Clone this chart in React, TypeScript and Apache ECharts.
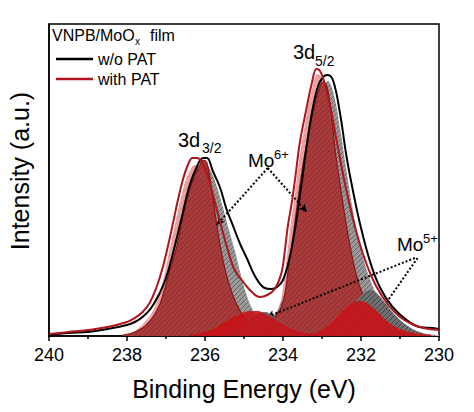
import React, { useEffect, useRef } from "react";
import * as echarts from "echarts";

// ---------- data (binding energy eV, intensity a.u.) ----------
const xRange = [230, 240];
const xInterval = 2;
const yRange = [0, 312];

const seriesNames = ["w/o PAT", "with PAT"];
const titleText = ["VNPB/MoO", "x", "film"];
const xTitle = "Binding Energy (eV)";
const yTitle = "Intensity (a.u.)";

const lineWoPAT: number[][] = [
  [240, 1], [239.5, 3], [239, 4], [238.5, 7], [238, 11], [237.8, 14], [237.6, 19], [237.4, 27],
  [237.2, 40], [237, 58], [236.8, 86], [236.6, 118], [236.4, 150], [236.2, 170], [236.05, 178],
  [235.95, 178], [235.8, 165], [235.62, 149], [235.45, 127], [235.29, 111], [235.1, 92],
  [234.93, 78], [234.72, 60], [234.47, 48], [234.3, 47], [234.15, 49], [234.0, 56], [233.85, 75],
  [233.7, 105], [233.55, 145], [233.4, 188], [233.25, 225], [233.1, 250], [232.97, 259],
  [232.87, 261], [232.72, 256], [232.54, 223], [232.37, 179], [232.21, 146], [232.03, 113],
  [231.78, 76], [231.52, 49], [231.19, 29], [230.83, 16], [230.5, 9], [230.16, 8], [230, 7],
];

const lineWithPAT: number[][] = [
  [240, 2], [239.5, 4], [239, 6], [238.5, 9], [238, 14], [237.8, 18], [237.6, 24], [237.42, 33],
  [237.25, 48], [237.08, 69], [236.95, 90], [236.82, 113], [236.7, 135], [236.57, 156],
  [236.44, 171], [236.32, 178], [236.2, 178], [236.1, 175], [235.95, 163], [235.8, 142],
  [235.6, 112], [235.4, 84], [235.24, 66], [235.0, 53], [234.8, 44], [234.6, 39], [234.4, 41],
  [234.21, 47], [234.04, 63], [233.95, 86], [233.88, 109], [233.78, 132], [233.68, 160],
  [233.57, 193], [233.39, 229], [233.26, 253], [233.14, 267], [233.05, 265], [232.95, 255],
  [232.8, 232], [232.6, 190], [232.4, 150], [232.2, 116], [232.0, 88], [231.8, 66], [231.6, 49],
  [231.3, 31], [231.0, 19], [230.7, 12], [230.4, 8], [230, 6],
];

// fitted components
const pinkMo6_32: number[][] = [
  [238.1, 1], [237.8, 5], [237.5, 16], [237.3, 28], [237.1, 52], [236.9, 88], [236.7, 124],
  [236.5, 155], [236.35, 168], [236.25, 171], [236.1, 166], [235.9, 148], [235.7, 118],
  [235.5, 86], [235.3, 58], [235.1, 38], [234.9, 24], [234.6, 12], [234.3, 6], [234.0, 3], [233.6, 1],
];
const pinkMo6_52: number[][] = [
  [235.0, 1], [234.6, 5], [234.3, 14], [234.1, 30], [234.0, 48], [233.9, 80], [233.8, 112],
  [233.7, 140], [233.57, 180], [233.4, 220], [233.25, 248], [233.12, 262], [233.0, 258],
  [232.85, 238], [232.7, 205], [232.5, 160], [232.3, 118], [232.1, 82], [231.9, 56], [231.6, 32],
  [231.3, 18], [230.9, 8], [230.5, 3], [230, 1],
];
const greyMo6_32: number[][] = [
  [238.0, 1], [237.6, 6], [237.3, 16], [237.0, 38], [236.8, 62], [236.6, 98], [236.4, 132],
  [236.2, 158], [236.05, 170], [235.98, 172], [235.85, 165], [235.7, 150], [235.55, 130],
  [235.4, 108], [235.24, 86], [235.1, 64], [234.95, 43], [234.8, 28], [234.6, 16], [234.3, 7],
  [233.9, 3], [233.4, 1],
];
const greyMo6_52: number[][] = [
  [235.5, 1], [235.0, 3], [234.6, 8], [234.3, 17], [234.0, 38], [233.8, 68], [233.6, 108],
  [233.4, 158], [233.2, 208], [233.0, 243], [232.85, 255], [232.7, 242], [232.54, 208],
  [232.37, 165], [232.21, 126], [232.03, 92], [231.8, 60], [231.5, 34], [231.2, 18], [230.9, 9],
  [230.5, 3], [230.1, 1],
];
const redMo6_32: number[][] = [
  [238.1, 1], [237.8, 4], [237.5, 11], [237.2, 28], [237.05, 45], [236.9, 66], [236.72, 90],
  [236.57, 119], [236.44, 140], [236.31, 156], [236.2, 166], [236.13, 171], [236.05, 176],
  [235.95, 173], [235.8, 138], [235.67, 104], [235.49, 67], [235.3, 42], [235.1, 25], [234.9, 14],
  [234.6, 7], [234.2, 3], [233.8, 1],
];
const redMo6_52: number[][] = [
  [235.2, 2], [234.8, 5], [234.5, 10], [234.2, 19], [234.0, 34], [233.85, 70], [233.7, 112],
  [233.57, 150], [233.45, 180], [233.31, 209], [233.18, 232], [233.06, 249], [232.97, 254],
  [232.87, 249], [232.74, 215], [232.66, 185], [232.5, 142], [232.35, 105], [232.23, 80],
  [232.1, 58], [231.9, 37], [231.6, 20], [231.3, 10], [230.9, 4], [230.4, 1],
];
const greyMo5_32: number[][] = [
  [235.6, 1], [235.3, 5], [235.0, 12], [234.8, 18], [234.6, 23], [234.45, 24], [234.3, 21],
  [234.1, 15], [233.9, 9], [233.6, 4], [233.2, 1],
];
const greyMo5_52: number[][] = [
  [233.2, 1], [232.9, 4], [232.6, 11], [232.3, 25], [232.1, 36], [231.9, 44], [231.75, 46],
  [231.6, 43], [231.4, 34], [231.1, 20], [230.8, 10], [230.5, 4], [230.2, 1],
];
const redMo5_32: number[][] = [
  [236.4, 1], [236.0, 4], [235.7, 9], [235.4, 16], [235.1, 22], [234.85, 25], [234.65, 25],
  [234.45, 22], [234.25, 18], [234.0, 12], [233.7, 6], [233.4, 3], [233.05, 1],
];
const redMo5_52: number[][] = [
  [233.4, 1], [233.1, 4], [232.8, 12], [232.5, 24], [232.25, 32], [232.05, 35], [231.85, 33],
  [231.6, 25], [231.3, 14], [231.0, 7], [230.6, 3], [230.2, 1],
];

// annotation arrows [from, to] in data coordinates
const mo6Arrows: number[][][] = [
  [[234.39, 168], [235.7, 111]],
  [[234.39, 168], [233.39, 124]],
];
const mo5Arrows: number[][][] = [
  [[230.62, 78], [234.42, 19]],
  [[230.55, 78], [231.52, 24]],
];

const FONT = 'Arial, "Liberation Sans", Helvetica, sans-serif';

function hatch(bg: string, fg: string, size = 5, lw = 0.9) {
  const c = document.createElement("canvas");
  c.width = size;
  c.height = size;
  const ctx = c.getContext("2d")!;
  ctx.fillStyle = bg;
  ctx.fillRect(0, 0, size, size);
  ctx.strokeStyle = fg;
  ctx.lineWidth = lw;
  ctx.beginPath();
  ctx.moveTo(0, size);
  ctx.lineTo(size, 0);
  ctx.moveTo(-size / 2, size / 2);
  ctx.lineTo(size / 2, -size / 2);
  ctx.moveTo(size / 2, size * 1.5);
  ctx.lineTo(size * 1.5, size / 2);
  ctx.stroke();
  return { image: c, repeat: "repeat", imageWidth: size, imageHeight: size } as any;
}

function comp(name: string, data: number[][], fill: any, stroke?: string, z = 2) {
  return {
    name,
    type: "line",
    data,
    smooth: 0.4,
    symbol: "none",
    silent: true,
    z,
    lineStyle: stroke ? { color: stroke, width: 1.2 } : { width: 0, opacity: 0 },
    areaStyle: { color: fill, opacity: 1 },
  };
}

function txt(text: string, x: number, y: number, size: number, extra: any = {}) {
  return {
    type: "text",
    x,
    y,
    z: 100,
    ...extra,
    style: { text, fontSize: size, fontFamily: FONT, fill: "#000", align: "left", verticalAlign: "middle", ...(extra.style || {}) },
  };
}

export default function App() {
  const ref = useRef<HTMLDivElement>(null);
  useEffect(() => {
    if (!ref.current) return;
    document.body.style.margin = "0";
    const chart = echarts.init(ref.current, null, { renderer: "svg" });
    const pink = hatch("#eca4a4", "#dc8c8c");
    const grey = hatch("#9a9a9a", "#5e5e5e");
    const darkRed = hatch("#a83c3c", "#8c2a2a");
    const darkGrey = hatch("#707070", "#3e3e3e");

    const arrowLine = (pairs: number[][][]) =>
      pairs.map((p) => [{ coord: p[0] }, { coord: p[1] }]);

    chart.setOption({
      animation: false,
      textStyle: { fontFamily: FONT },
      grid: {
        left: 49,
        right: 35,
        top: 24,
        bottom: 76,
        show: true,
        borderColor: "#000",
        borderWidth: 1.5,
      },
      legend: {
        data: seriesNames.map((n) => ({ name: n, icon: "rect" })),
        orient: "vertical",
        left: 51,
        top: 46,
        itemWidth: 37,
        itemHeight: 2.5,
        itemGap: 4,
        textStyle: { fontSize: 16, color: "#000", fontFamily: FONT },
      },
      xAxis: {
        type: "value",
        min: xRange[0],
        max: xRange[1],
        interval: xInterval,
        inverse: true,
        name: xTitle,
        nameLocation: "middle",
        nameGap: 40,
        nameTextStyle: { fontSize: 25, color: "#000", fontFamily: FONT },
        axisLine: { show: true, lineStyle: { color: "#000", width: 1.5 } },
        axisTick: { show: true, length: 5, lineStyle: { color: "#000", width: 1.5 } },
        minorTick: { show: true, splitNumber: 2, length: 3, lineStyle: { color: "#000", width: 1.5 } },
        axisLabel: { fontSize: 18, color: "#000", margin: 10, fontFamily: FONT },
        splitLine: { show: false },
      },
      yAxis: {
        type: "value",
        min: yRange[0],
        max: yRange[1],
        axisLine: { show: true, lineStyle: { color: "#000", width: 1.5 } },
        axisTick: { show: false },
        axisLabel: { show: false },
        splitLine: { show: false },
      },
      series: [
        comp("p1", pinkMo6_32, pink, undefined, 2),
        comp("p2", pinkMo6_52, pink, undefined, 2),
        comp("g1", greyMo6_32, grey, undefined, 3),
        comp("g2", greyMo6_52, grey, undefined, 3),
        comp("d1", redMo6_32, darkRed, "#8b1515", 4),
        comp("d2", redMo6_52, darkRed, "#8b1515", 4),
        comp("g3", greyMo5_32, darkGrey, undefined, 5),
        comp("g4", greyMo5_52, darkGrey, undefined, 5),
        comp("r3", redMo5_32, "rgba(200,18,24,0.9)", undefined, 6),
        comp("r4", redMo5_52, "rgba(200,18,24,0.9)", undefined, 6),
        {
          name: seriesNames[0],
          type: "line",
          data: lineWoPAT,
          smooth: 0.4,
          symbol: "none",
          z: 10,
          color: "#000",
          lineStyle: { color: "#000", width: 2 },
        },
        {
          name: seriesNames[1],
          type: "line",
          data: lineWithPAT,
          smooth: 0.4,
          symbol: "none",
          z: 11,
          color: "#b0141c",
          lineStyle: { color: "#b0141c", width: 2 },
          markLine: {
            silent: true,
            symbol: ["none", "arrow"],
            symbolSize: [6, 8],
            label: { show: false },
            lineStyle: { color: "#000", type: "dotted", width: 2 },
            data: [...arrowLine(mo6Arrows), ...arrowLine(mo5Arrows)],
          },
        },
      ],
      graphic: [
        txt(yTitle, 20, 171, 25, { rotation: Math.PI / 2, style: { align: "center" } }),
        txt(titleText[0], 52, 35, 16),
        txt(titleText[1], 135, 41, 10),
        txt(titleText[2], 150, 35, 16),
        txt("3d", 293, 52, 20),
        txt("5/2", 315, 61, 14),
        txt("3d", 178, 140, 20),
        txt("3/2", 202, 148, 14),
        txt("Mo", 248, 160, 19),
        txt("6+", 274, 154, 13),
        txt("Mo", 397, 244, 19),
        txt("5+", 423, 238, 13),
      ],
    });
    return () => chart.dispose();
  }, []);
  return <div ref={ref} style={{ width: 474, height: 412 }} />;
}
